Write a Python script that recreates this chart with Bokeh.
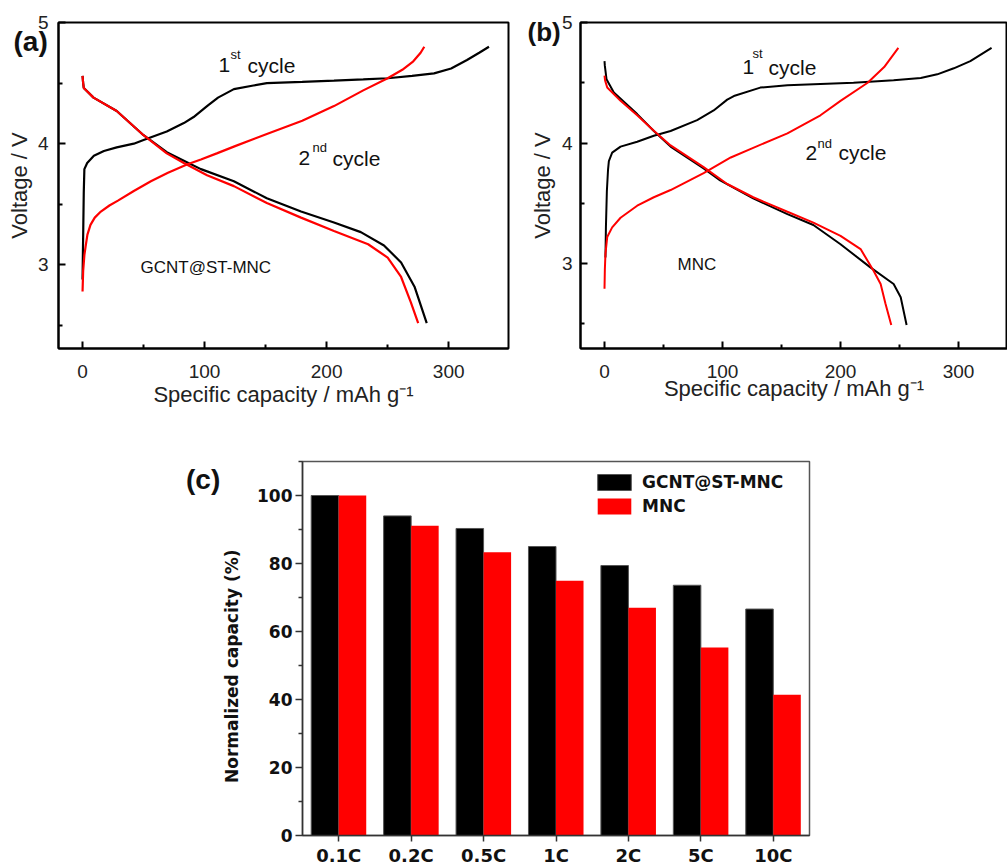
from bokeh.plotting import figure
from bokeh.layouts import column, row, Spacer
from bokeh.models import Range1d, Label, FactorRange, FixedTicker
from bokeh.transform import dodge
from bokeh.embed import file_html
from bokeh.resources import INLINE

# ---------------- data: panel (a) GCNT@ST-MNC ----------------
a_ch1_cap = [0, 0.3, 0.6, 1, 1.5, 3.8, 9.3, 17.5, 28, 42, 50, 69, 83, 91, 102, 111, 124, 140, 151, 180, 206, 230, 250, 270, 288, 302, 315, 325, 333]
a_ch1_v = [2.88, 3.1, 3.3, 3.6, 3.79, 3.84, 3.90, 3.94, 3.97, 4.0, 4.03, 4.10, 4.17, 4.22, 4.31, 4.38, 4.45, 4.48, 4.5, 4.51, 4.52, 4.53, 4.54, 4.56, 4.58, 4.62, 4.69, 4.75, 4.8]
a_dis1_cap = [0, 0.5, 1, 9, 28, 50, 69, 83, 97, 124, 151, 179, 206, 228, 247, 261, 272, 282]
a_dis1_v = [4.56, 4.5, 4.46, 4.38, 4.27, 4.07, 3.93, 3.86, 3.79, 3.69, 3.55, 3.44, 3.35, 3.27, 3.16, 3.02, 2.82, 2.52]
a_ch2_cap = [0, 0.5, 1.5, 2.5, 4, 6.5, 10, 15, 22, 29, 42, 56, 70, 86, 97, 110, 125, 151, 180, 206, 230, 250, 262, 271, 277, 280]
a_ch2_v = [2.78, 2.95, 3.08, 3.15, 3.25, 3.33, 3.39, 3.44, 3.49, 3.53, 3.61, 3.69, 3.76, 3.83, 3.87, 3.92, 3.98, 4.08, 4.19, 4.31, 4.44, 4.54, 4.61, 4.68, 4.75, 4.8]
a_dis2_cap = [0, 0.5, 1, 9, 28, 50, 69, 83, 102, 124, 151, 179, 206, 234, 250, 261, 269, 275]
a_dis2_v = [4.56, 4.5, 4.46, 4.38, 4.27, 4.07, 3.92, 3.84, 3.74, 3.65, 3.51, 3.39, 3.28, 3.17, 3.06, 2.90, 2.69, 2.52]

# ---------------- data: panel (b) MNC ----------------
b_ch1_cap = [0.8, 1.2, 2.0, 3.0, 3.7, 6.5, 13.6, 27.7, 41.8, 56, 78.5, 92.5, 104, 109.6, 132, 155, 183, 211, 245, 268, 282, 296, 310, 328]
b_ch1_v = [3.05, 3.3, 3.6, 3.78, 3.85, 3.92, 3.97, 4.01, 4.06, 4.10, 4.19, 4.27, 4.36, 4.39, 4.46, 4.48, 4.49, 4.50, 4.52, 4.54, 4.57, 4.62, 4.68, 4.79]
b_dis1_cap = [0, 0.3, 1.7, 7.9, 27.7, 41.8, 56, 84, 98, 126, 155, 177, 200, 225, 245, 251, 256]
b_dis1_v = [4.68, 4.64, 4.53, 4.42, 4.24, 4.10, 3.97, 3.79, 3.69, 3.54, 3.41, 3.32, 3.16, 2.97, 2.83, 2.72, 2.49]
b_ch2_cap = [0, 0.3, 0.8, 2.3, 6.5, 13.6, 27.7, 41.8, 56, 84, 107, 126, 155, 183, 200, 223, 237, 249]
b_ch2_v = [2.79, 2.95, 3.08, 3.22, 3.30, 3.38, 3.48, 3.55, 3.61, 3.75, 3.88, 3.96, 4.08, 4.23, 4.35, 4.50, 4.63, 4.79]
b_dis2_cap = [0, 0.5, 2.3, 13.6, 27.7, 42, 56, 84, 104, 126, 155, 177, 200, 217, 228, 234, 238, 243]
b_dis2_v = [4.56, 4.52, 4.46, 4.35, 4.23, 4.10, 3.98, 3.80, 3.66, 3.55, 3.43, 3.34, 3.23, 3.12, 2.94, 2.83, 2.67, 2.49]

# ---------------- data: panel (c) ----------------
rates = ["0.1C", "0.2C", "0.5C", "1C", "2C", "5C", "10C"]
gcnt = [100, 94.0, 90.3, 85.0, 79.4, 73.6, 66.6]
mnc = [100, 91.1, 83.3, 74.9, 67.0, 55.3, 41.4]

cap_ticks = [0, 100, 200, 300]
cap_minor = [-50, 50, 150, 250, 350]
v_ticks = [3, 4, 5]
v_minor = [2.5, 3.5, 4.5]
norm_ticks = [0, 20, 40, 60, 80, 100]
norm_minor = [10, 30, 50, 70, 90, 110]

FONT = "Liberation Sans"
BOLD = "DejaVu Sans"
BLACK = "#000000"
RED = "#ff0000"
ROW1_H = 453


def style_ec(p, lab_standoff, axlab_standoff_x, axlab_standoff_y, ylab_standoff):
    for ax in (p.xaxis[0], p.yaxis[0]):
        ax.axis_line_width = 2
        ax.major_tick_line_width = 2
        ax.minor_tick_line_width = 2
        ax.major_tick_in = 7
        ax.major_tick_out = 0
        ax.minor_tick_in = 4
        ax.minor_tick_out = 0
        ax.major_label_text_font = FONT
        ax.major_label_text_font_size = "19px"
        ax.major_label_text_color = "#222222"
        ax.axis_label_text_font = FONT
        ax.axis_label_text_font_size = "22px"
        ax.axis_label_text_font_style = "normal"
        ax.axis_label_text_color = "#222222"
    p.xaxis[0].major_label_standoff = lab_standoff
    p.xaxis[0].axis_label_standoff = axlab_standoff_x
    p.yaxis[0].major_label_standoff = ylab_standoff
    p.yaxis[0].axis_label_standoff = axlab_standoff_y
    p.xaxis[0].ticker = FixedTicker(ticks=cap_ticks, minor_ticks=cap_minor)
    p.yaxis[0].ticker = FixedTicker(ticks=v_ticks, minor_ticks=v_minor)
    p.outline_line_color = "black"
    p.outline_line_width = 2
    p.outline_line_alpha = 1
    p.grid.visible = False
    p.background_fill_color = "white"
    p.border_fill_color = "white"


def add_txt(p, x, y, text, size, units="data", bold=False, font=FONT, place=None):
    lab = Label(x=x, y=y, x_units=units, y_units=units, text=text,
                text_font=font, text_font_size=size,
                text_font_style="bold" if bold else "normal",
                text_align="left", text_baseline="alphabetic",
                text_color="#111111")
    if place is None:
        p.add_layout(lab)
    else:
        p.add_layout(lab, place)


# ---------------- panel (a) ----------------
pa = figure(width=520, height=ROW1_H, output_backend="svg", toolbar_location=None,
            x_range=Range1d(-19.7, 349), y_range=Range1d(2.31, 5.0),
            min_border_left=58, min_border_right=12, min_border_top=19,
            min_border_bottom=ROW1_H - 353,
            x_axis_label="Specific capacity / mAh g\u207b\u00b9", y_axis_label="Voltage / V")
style_ec(pa, 16, 1, 3, 10)
pa.line(a_ch1_cap, a_ch1_v, line_color=BLACK, line_width=2.2)
pa.line(a_dis1_cap, a_dis1_v, line_color=BLACK, line_width=2.2)
pa.line(a_ch2_cap, a_ch2_v, line_color=RED, line_width=2.2)
pa.line(a_dis2_cap, a_dis2_v, line_color=RED, line_width=2.2)
add_txt(pa, 111.4, 4.653, "1", "21px")
add_txt(pa, 121.3, 4.734, "st", "13px")
add_txt(pa, 135.2, 4.646, "cycle", "21px")
add_txt(pa, 177.0, 3.881, "2", "21px")
add_txt(pa, 188.4, 3.969, "nd", "13px")
add_txt(pa, 204.8, 3.881, "cycle", "21px")
add_txt(pa, 47.5, 2.979, "GCNT@ST-MNC", "17px")
add_txt(pa, -45, ROW1_H - 54, "(a)", "28px", units="screen", bold=True, place="below")

# ---------------- panel (b) ----------------
pb = figure(width=487, height=ROW1_H, output_backend="svg", toolbar_location=None,
            x_range=Range1d(-20.34, 341.5), y_range=Range1d(2.295, 5.0),
            min_border_left=60, min_border_right=0, min_border_top=22,
            min_border_bottom=ROW1_H - 348,
            x_axis_label="Specific capacity / mAh g\u207b\u00b9", y_axis_label="Voltage / V")
style_ec(pb, 16, -5, 4, 8)
pb.line(b_ch1_cap, b_ch1_v, line_color=BLACK, line_width=2)
pb.line(b_dis1_cap, b_dis1_v, line_color=BLACK, line_width=2)
pb.line(b_ch2_cap, b_ch2_v, line_color=RED, line_width=2)
pb.line(b_dis2_cap, b_dis2_v, line_color=RED, line_width=2)
add_txt(pb, 116.9, 4.627, "1", "21px")
add_txt(pb, 125.4, 4.745, "st", "13px")
add_txt(pb, 139.0, 4.627, "cycle", "21px")
add_txt(pb, 170.3, 3.921, "2", "21px")
add_txt(pb, 180.5, 3.996, "nd", "13px")
add_txt(pb, 198.3, 3.921, "cycle", "21px")
add_txt(pb, 61.9, 2.992, "MNC", "17px")
add_txt(pb, -53, ROW1_H - 51.5, "(b)", "26px", units="screen", bold=True, place="below")

# ---------------- panel (c) ----------------
PC_H = 868 - ROW1_H
pc = figure(width=649, height=PC_H, output_backend="svg", toolbar_location=None,
            x_range=FactorRange(*rates, range_padding=0), y_range=Range1d(0, 110),
            min_border_left=122, min_border_right=20, min_border_top=461 - ROW1_H,
            min_border_bottom=30,
            y_axis_label="Normalized capacity (%)" + "\u00a0" * 6)
src = dict(rate=rates, gcnt=gcnt, mnc=mnc)
pc.vbar(x=dodge("rate", -0.19, range=pc.x_range), top="gcnt", width=0.38, bottom=0,
        source=src, fill_color=BLACK, line_color="#555555", line_width=1,
        legend_label="GCNT@ST-MNC")
pc.vbar(x=dodge("rate", 0.19, range=pc.x_range), top="mnc", width=0.38, bottom=0,
        source=src, fill_color=RED, line_color=None, legend_label="MNC")
pc.grid.visible = False
for ax in (pc.xaxis[0], pc.yaxis[0]):
    ax.axis_line_width = 1.5
    ax.axis_line_color = "#333333"
    ax.major_tick_line_width = 1.5
    ax.major_tick_line_color = "#333333"
    ax.minor_tick_line_width = 1.5
    ax.minor_tick_line_color = "#333333"
    ax.major_tick_in = 0
    ax.major_tick_out = 7
    ax.minor_tick_in = 0
    ax.minor_tick_out = 4
    ax.major_label_text_font = BOLD
    ax.major_label_text_font_style = "bold"
    ax.major_label_text_font_size = "17px"
    ax.major_label_text_color = "#111111"
    ax.axis_label_text_font = BOLD
    ax.axis_label_text_font_style = "bold"
    ax.axis_label_text_font_size = "17px"
    ax.axis_label_text_color = "#111111"
pc.xaxis[0].major_tick_out = 6
pc.xaxis[0].major_label_text_font_size = "18px"
pc.xaxis[0].major_label_standoff = 3
pc.yaxis[0].major_label_standoff = 3
pc.yaxis[0].axis_label_standoff = 12
pc.yaxis[0].ticker = FixedTicker(ticks=norm_ticks, minor_ticks=norm_minor)
pc.outline_line_color = "#555555"
pc.outline_line_width = 1.5
pc.outline_line_alpha = 1
lg = pc.legend[0]
lg.location = (291, 319)
lg.glyph_width = 42
lg.glyph_height = 20
lg.label_height = 20
lg.label_standoff = 7
lg.spacing = 4
lg.padding = 0
lg.margin = 0
lg.border_line_color = None
lg.background_fill_alpha = 0
lg.label_text_font = BOLD
lg.label_text_font_style = "bold"
lg.label_text_font_size = "17px"
lg.label_text_color = "#111111"
add_txt(pc, 0.5, 356.5, "(c)", "28px", units="screen", bold=True, place="left")

layout = column(row(pa, pb), row(Spacer(width=180, height=PC_H), pc))
open("out.html", "w").write(file_html(layout, INLINE))
